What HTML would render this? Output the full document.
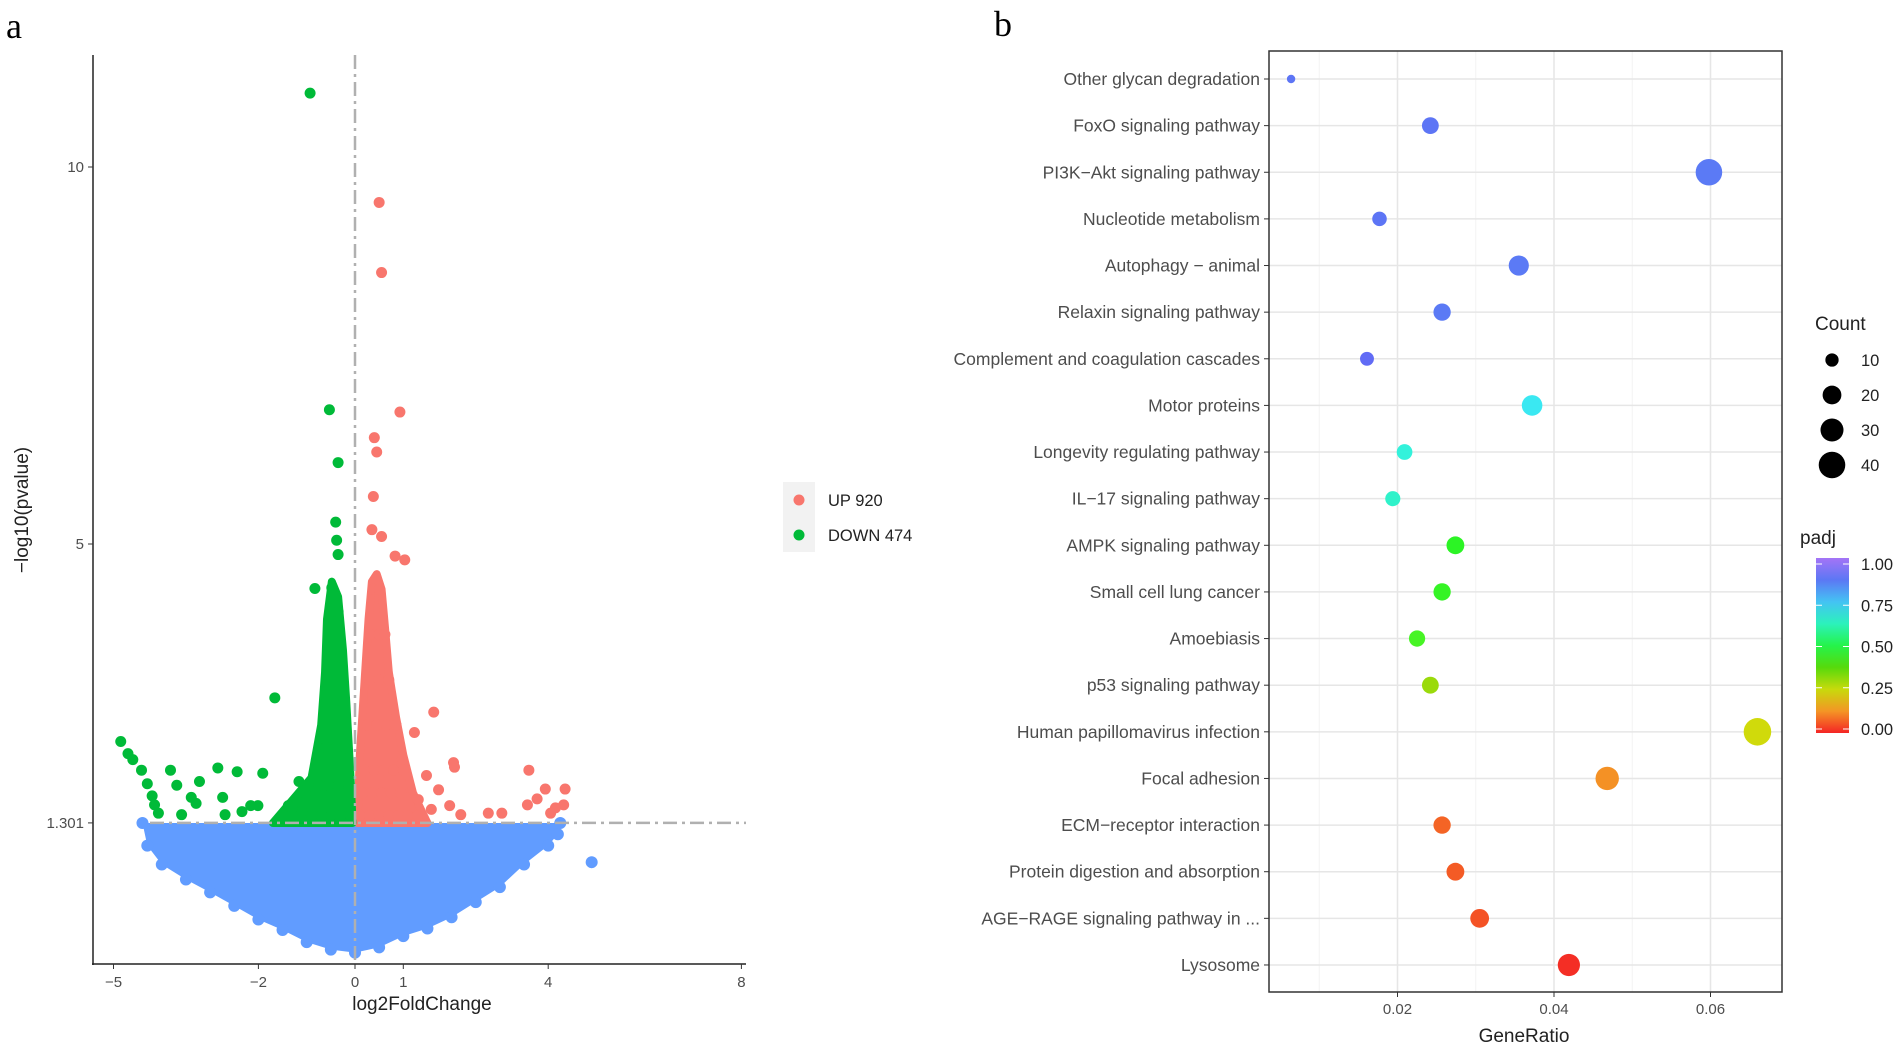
<!DOCTYPE html>
<html><head><meta charset="utf-8"><style>
html,body{margin:0;padding:0;background:#fff;}
svg{display:block;font-family:"Liberation Sans",sans-serif;}
</style></head><body>
<svg id="fig" width="1901" height="1048" viewBox="0 0 1901 1048" xmlns="http://www.w3.org/2000/svg">
<text x="6" y="38" font-family="Liberation Serif,serif" font-size="36">a</text>
<text x="994" y="36" font-family="Liberation Serif,serif" font-size="36">b</text>
<g id="volcano"></g>
<g id="dotplot"></g>
</svg>
<script>
// ---------- Volcano data ----------
const upX = [0.5,0.55,0.93,0.4,0.45,0.38,0.35,0.55,0.83,1.03,1.63,1.23,2.04,2.06,3.6,0.98,1.48,1.73,3.94,4.35,3.77,4.32,4.15,4.05,3.57,2.76,3.04,1.96,1.58,2.19,1.31,0.1,0.3,0.5,0.7,0.9,1.1,1.3,0.15,0.35,0.55,0.75,0.95,0.2,0.4,0.6,0.8,1.0,0.25,0.45,0.65,0.85,0.3,0.5,0.7,0.32,0.5,0.62,0.38,0.5];
const upY = [9.53,8.6,6.75,6.41,6.22,5.63,5.19,5.1,4.84,4.79,2.77,2.5,2.1,2.04,2.0,2.14,1.93,1.74,1.75,1.75,1.62,1.54,1.5,1.43,1.54,1.43,1.43,1.53,1.48,1.41,1.61,1.4,1.4,1.4,1.4,1.4,1.4,1.4,1.7,1.7,1.7,1.7,1.7,2.0,2.0,2.0,2.0,2.0,2.6,2.6,2.6,2.6,3.2,3.2,3.2,3.8,3.8,3.8,4.4,4.4];
const downX = [-0.93,-0.53,-0.35,-0.4,-0.38,-0.35,-0.83,-0.48,-0.38,-1.66,-4.85,-4.7,-4.6,-4.42,-4.3,-4.2,-4.15,-4.07,-3.82,-3.69,-3.39,-3.22,-3.29,-2.84,-2.74,-2.44,-2.34,-1.91,-2.01,-2.16,-1.38,-1.16,-1.03,-2.69,-3.59,-0.1,-0.3,-0.5,-0.7,-0.9,-1.1,-1.3,-1.5,-0.15,-0.35,-0.55,-0.75,-0.2,-0.4,-0.6,-0.25,-0.45,-0.6,-0.3,-0.5,-0.35,-0.5];
const downY = [10.98,6.78,6.08,5.29,5.05,4.86,4.41,4.42,4.18,2.96,2.38,2.22,2.14,2.0,1.82,1.66,1.54,1.43,2.0,1.8,1.64,1.85,1.56,2.03,1.64,1.98,1.45,1.96,1.53,1.53,1.53,1.85,1.69,1.41,1.41,1.4,1.4,1.4,1.4,1.4,1.45,1.5,1.4,1.8,1.8,1.8,1.8,2.3,2.3,2.3,2.9,2.9,2.9,3.5,3.5,4.1,4.1];
const nsX = [4.9,-4.4,4.25,4.2,4.0,3.5,3.0,2.5,2.0,1.5,1.0,0.5,0,-0.5,-1.0,-1.5,-2.0,-2.5,-3.0,-3.5,-4.0,-4.3];
const nsY = [0.78,1.3,1.3,1.15,1.0,0.75,0.45,0.25,0.05,-0.1,-0.2,-0.35,-0.42,-0.38,-0.28,-0.12,0.02,0.2,0.38,0.55,0.75,1.0];
const upHullX = [0.05,0.1,0.2,0.28,0.35,0.45,0.55,0.62,0.7,0.85,1.0,1.2,1.5];
const upHullY = [1.3,2.2,3.2,4.0,4.5,4.6,4.4,3.9,3.3,2.7,2.2,1.7,1.3];
const downHullX = [-0.05,-0.1,-0.18,-0.25,-0.35,-0.48,-0.58,-0.62,-0.7,-0.9,-1.3,-1.7];
const downHullY = [1.3,2.0,2.9,3.6,4.3,4.5,4.0,3.3,2.6,1.9,1.6,1.3];
const vxTicks = [-5,-2,0,1,4,8];
const vyTicks = [10,5,1.301];
const legendLabels = ["UP 920","DOWN 474"];

// ---------- Dot plot data ----------
const pathways = ["Other glycan degradation","FoxO signaling pathway","PI3K\u2212Akt signaling pathway","Nucleotide metabolism","Autophagy \u2212 animal","Relaxin signaling pathway","Complement and coagulation cascades","Motor proteins","Longevity regulating pathway","IL\u221217 signaling pathway","AMPK signaling pathway","Small cell lung cancer","Amoebiasis","p53 signaling pathway","Human papillomavirus infection","Focal adhesion","ECM\u2212receptor interaction","Protein digestion and absorption","AGE\u2212RAGE signaling pathway in ...","Lysosome"];
const geneRatio = [0.0064,0.0242,0.0598,0.0177,0.0355,0.0257,0.0161,0.0372,0.0209,0.0194,0.0274,0.0257,0.0225,0.0242,0.0660,0.0468,0.0257,0.0274,0.0305,0.0419];
const counts = [4,16,40,12,23,17,11,24,14,13,18,17,15,16,43,31,17,18,20,28];
const padj = [0.88,0.88,0.87,0.88,0.87,0.87,0.9,0.7,0.66,0.64,0.45,0.44,0.42,0.3,0.24,0.12,0.07,0.06,0.05,0.01];
const grTicks = [0.02,0.04,0.06];
const countLegend = [10,20,30,40];
const padjTicks = [1.0,0.75,0.5,0.25,0.0];

const NS="http://www.w3.org/2000/svg";
function mk(tag, attrs, parent, txt){const e=document.createElementNS(NS,tag);for(const k in attrs)e.setAttribute(k,attrs[k]);if(txt!==undefined)e.textContent=txt;parent.appendChild(e);return e;}

// ---------- Volcano ----------
const V=document.getElementById('volcano');
const vx = v => 355 + v*48.3;
const vy = v => 544 - (v-5)*75.4;
const nsPts = nsX.slice(1).map((x,i)=>vx(x)+','+vy(nsY[i+1])).join(' ');
const blob = mk('polygon',{points:nsPts,fill:'#619CFF'},V);


nsX.forEach((x,i)=>{const c=mk('circle',{cx:vx(x),cy:vy(nsY[i]),r:6,fill:'#619CFF'},V);

});
const upHull=mk('polygon',{points:upHullX.map((x,i)=>vx(x)+','+vy(upHullY[i])).join(' '),fill:'#F8766D','stroke':'#F8766D','stroke-width':8,'stroke-linejoin':'round'},V);


const dnHull=mk('polygon',{points:downHullX.map((x,i)=>vx(x)+','+vy(downHullY[i])).join(' '),fill:'#00BA38','stroke':'#00BA38','stroke-width':8,'stroke-linejoin':'round'},V);


upX.forEach((x,i)=>{const c=mk('circle',{cx:vx(x),cy:vy(upY[i]),r:5.5,fill:'#F8766D'},V);

});
downX.forEach((x,i)=>{const c=mk('circle',{cx:vx(x),cy:vy(downY[i]),r:5.5,fill:'#00BA38'},V);

});
const vl=mk('line',{x1:vx(0),x2:vx(0),y1:55,y2:964,stroke:'#b0b0b0','stroke-width':2.5,'stroke-dasharray':'14 5 3 5'},V);


const hl=mk('line',{x1:150,x2:746,y1:vy(1.301),y2:vy(1.301),stroke:'#b0b0b0','stroke-width':2.5,'stroke-dasharray':'14 5 3 5'},V);


const ya=mk('line',{x1:93,x2:93,y1:55,y2:965,stroke:'#222','stroke-width':1.5},V);


const xa=mk('line',{x1:92,x2:746,y1:964,y2:964,stroke:'#222','stroke-width':1.5},V);


vxTicks.forEach(t=>{mk('line',{x1:vx(t),x2:vx(t),y1:964,y2:969,stroke:'#333'},V);
const l=mk('text',{x:vx(t),y:987,'font-size':15,fill:'#4d4d4d','text-anchor':'middle'},V,t<0?'\u2212'+(-t):String(t));

});
vyTicks.forEach(t=>{mk('line',{x1:88,x2:93,y1:vy(t),y2:vy(t),stroke:'#333'},V);
const l=mk('text',{x:84,y:vy(t)+5,'font-size':15,fill:'#4d4d4d','text-anchor':'end'},V,String(t));

});
const xt=mk('text',{x:422,y:1010,'font-size':19,fill:'#222','text-anchor':'middle'},V,'log2FoldChange');


const yt=mk('text',{x:0,y:0,'font-size':19,fill:'#222','text-anchor':'middle',transform:'translate(28,510) rotate(-90)'},V,'\u2212log10(pvalue)');


const lgBg=mk('rect',{x:783,y:482,width:32,height:70,fill:'#f2f2f2'},V);


['#F8766D','#00BA38'].forEach((col,i)=>{
const c=mk('circle',{cx:799,cy:500+i*35,r:5.5,fill:col},V);


const t=mk('text',{x:828,y:506+i*35,'font-size':16.5,fill:'#222'},V,legendLabels[i]);

});

// ---------- Dot plot ----------
const D=document.getElementById('dotplot');
const L=1269,R=1782,T=51,B=992;
const gx = v => 1241 + v*7825;
const gy = i => 79 + i*46.63;
const rOf = c => 2.1*Math.sqrt(c);
function colOf(p){
  const h=p*262;
  let l=55, s=90;
  if(p>0.15&&p<0.4){l=45;}
  if(p>=0.6){l=55+(p-0.6)*40; s=88;}
  return 'hsl('+h+','+s+'%,'+l+'%)';
}
[0.01,0.03,0.05,0.07].forEach(v=>{if(gx(v)<R) mk('line',{x1:gx(v),x2:gx(v),y1:T,y2:B,stroke:'#f3f3f3','stroke-width':1},D);});
grTicks.forEach(v=>mk('line',{x1:gx(v),x2:gx(v),y1:T,y2:B,stroke:'#e6e6e6','stroke-width':1.5},D));
pathways.forEach((p,i)=>{
mk('line',{x1:L,x2:R,y1:gy(i),y2:gy(i),stroke:'#e6e6e6','stroke-width':1.5},D);
mk('line',{x1:L-5,x2:L,y1:gy(i),y2:gy(i),stroke:'#333'},D);
const t=mk('text',{x:L-9,y:gy(i)+6,'font-size':17.5,fill:'#4d4d4d','text-anchor':'end'},D,p);


});
pathways.forEach((p,i)=>{
const c=mk('circle',{cx:gx(geneRatio[i]),cy:gy(i),r:rOf(counts[i]),fill:colOf(padj[i])},D);


});
const frame=mk('rect',{x:L,y:T,width:R-L,height:B-T,fill:'none',stroke:'#333','stroke-width':1.5},D);


grTicks.forEach(v=>{mk('line',{x1:gx(v),x2:gx(v),y1:B,y2:B+5,stroke:'#333'},D);
const t=mk('text',{x:gx(v),y:B+22,'font-size':15,fill:'#4d4d4d','text-anchor':'middle'},D,String(v));

});
const gt=mk('text',{x:1524,y:1042,'font-size':19,fill:'#222','text-anchor':'middle'},D,'GeneRatio');


const ct=mk('text',{x:1815,y:330,'font-size':19,fill:'#222'},D,'Count');


countLegend.forEach((c,i)=>{
const y=360+i*35;
const d=mk('circle',{cx:1832,cy:y,r:rOf(c),fill:'#000'},D);


const t=mk('text',{x:1861,y:y+6,'font-size':16.5,fill:'#222'},D,String(c));

});
const pt=mk('text',{x:1800,y:544,'font-size':19,fill:'#222'},D,'padj');


const defs=mk('defs',{},D);
const lg=mk('linearGradient',{id:'rb',x1:0,y1:1,x2:0,y2:0},defs);
[0,0.125,0.25,0.375,0.5,0.625,0.75,0.875,1].forEach(s=>mk('stop',{offset:s,'stop-color':colOf(s)},lg));
const cb=mk('rect',{x:1816,y:558,width:33,height:175,fill:'url(#rb)'},D);


padjTicks.forEach(p=>{
const y=729 - p*165;
mk('line',{x1:1816,x2:1822,y1:y,y2:y,stroke:'#fff'},D);
mk('line',{x1:1843,x2:1849,y1:y,y2:y,stroke:'#fff'},D);
const t=mk('text',{x:1861,y:y+6,'font-size':16.5,fill:'#222'},D,p.toFixed(2));

});
</script>
</body></html>
